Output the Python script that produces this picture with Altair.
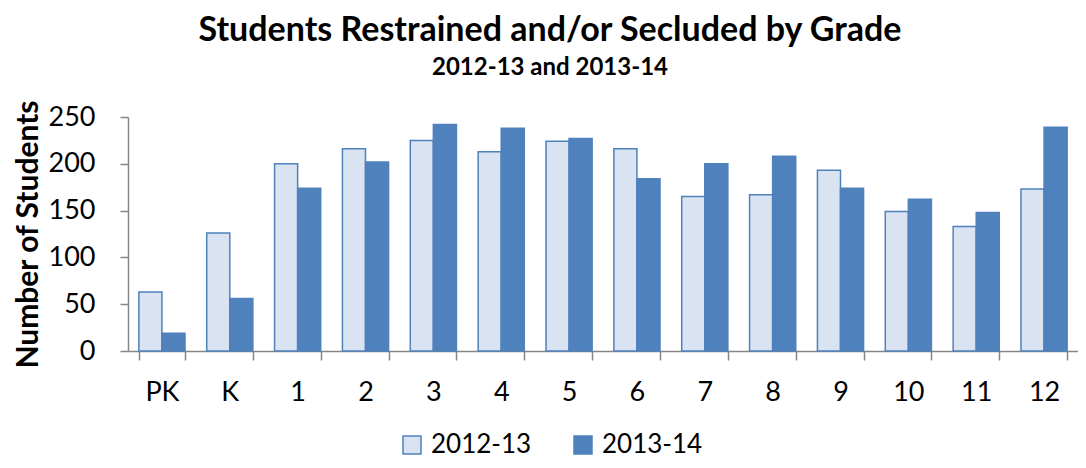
import altair as alt
import pandas as pd

grades = ["PK", "K", "1", "2", "3", "4", "5", "6", "7", "8", "9", "10", "11", "12"]
y2012_13 = [63, 126, 200, 216, 225, 213, 224, 216, 165, 167, 193, 149, 133, 173]
y2013_14 = [19, 56, 174, 202, 242, 238, 227, 184, 200, 208, 174, 162, 148, 239]
years = ["2012-13", "2013-14"]

rows = []
for g, a, b in zip(grades, y2012_13, y2013_14):
    rows.append({"grade": g, "year": years[0], "value": a})
    rows.append({"grade": g, "year": years[1], "value": b})
df = pd.DataFrame(rows)

FONT = "Lato"
BLUE = "#4f81bd"
LIGHT = "#d9e3f2"

legend_opts = dict(title=None, orient="none", direction="horizontal",
                   legendX=271, legendY=315, padding=0,
                   symbolType="square", symbolSize=324, symbolStrokeWidth=1.5,
                   labelFontSize=26, labelFont=FONT, labelColor="black",
                   labelOffset=6, columnPadding=38)

chart = alt.Chart(df).mark_bar(strokeWidth=1.5).encode(
    x=alt.X("grade:N", sort=grades,
            scale=alt.Scale(paddingInner=0.32, paddingOuter=0.16),
            axis=alt.Axis(title=None, labelAngle=0, tickBand="extent",
                          labelFontSize=27, labelFont=FONT, labelColor="black",
                          domainColor="#868686", tickColor="#868686",
                          tickSize=9, labelPadding=19, domainWidth=1.5, tickWidth=1.5)),
    xOffset=alt.XOffset("year:N", sort=years, scale=alt.Scale(paddingInner=0)),
    y=alt.Y("value:Q",
            scale=alt.Scale(domain=[0, 250], nice=False),
            axis=alt.Axis(title="Number of Students", values=[0, 50, 100, 150, 200, 250],
                          grid=False, labelFontSize=27, labelFont=FONT, labelColor="black",
                          titleFontSize=30, titleFont=FONT, titleFontWeight="bold",
                          titleColor="black", titlePadding=5,
                          domainColor="#868686", tickColor="#868686",
                          tickSize=8, labelPadding=25, domainWidth=1.5, tickWidth=1.5)),
    fill=alt.Color("year:N", sort=years,
                   scale=alt.Scale(domain=years, range=[LIGHT, BLUE]),
                   legend=alt.Legend(**legend_opts)),
    stroke=alt.Stroke("year:N", sort=years,
                      scale=alt.Scale(domain=years, range=[BLUE, BLUE]),
                      legend=alt.Legend(**legend_opts)),
).properties(
    width=950,
    height=234,
    autosize=alt.AutoSizeParams(type="none"),
    padding={"left": 120, "top": 109, "right": 0, "bottom": 109},
    title=alt.TitleParams(
        text="Students Restrained and/or Secluded by Grade",
        subtitle="2012-13 and 2013-14",
        font=FONT, fontSize=34, fontWeight="bold", color="black",
        subtitleFont=FONT, subtitleFontSize=24, subtitleFontWeight="bold",
        subtitleColor="black", subtitlePadding=8,
        anchor="middle", dx=-53, offset=19,
    ),
).configure_view(stroke=None)

chart.save("out.html", embed_options={"renderer": "svg", "actions": False})
